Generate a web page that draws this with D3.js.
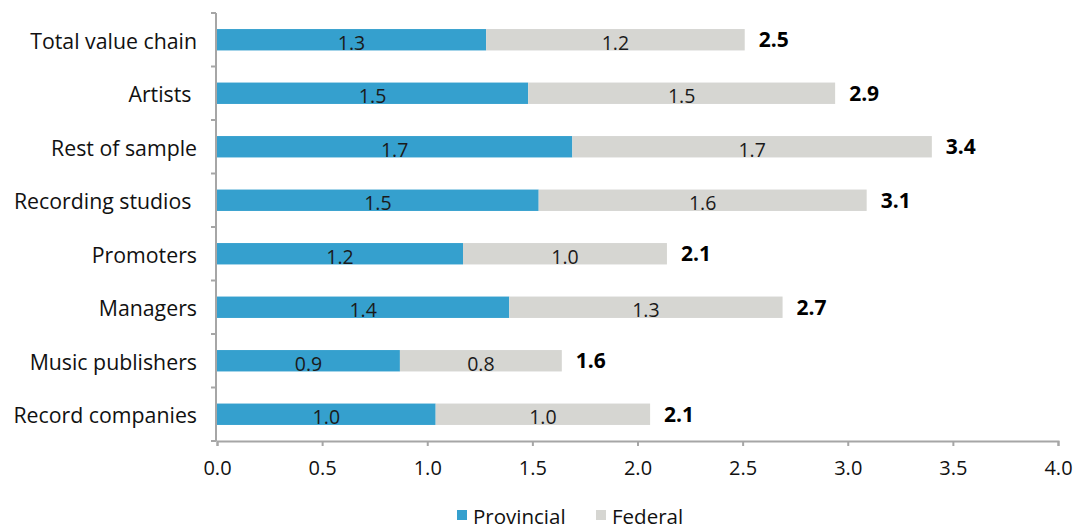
<!DOCTYPE html>
<html>
<head>
<meta charset="utf-8">
<script src="https://cdn.jsdelivr.net/npm/d3@7"></script>
<style>
  html, body { margin: 0; padding: 0; background: #fff; }
  svg { display: block; font-family: "Open Sans", "DejaVu Sans", sans-serif; }
  .cat { white-space: pre; }
</style>
</head>
<body>
<svg id="chart" width="1085" height="529"></svg>
<script>
// Segments of the music value chain (top to bottom)
const categories = [
  "Total value chain",
  "Artists ",
  "Rest of sample",
  "Recording studios ",
  "Promoters",
  "Managers",
  "Music publishers",
  "Record companies"
];
// Provincial and federal components
const provincial = [1.28, 1.48, 1.69, 1.53, 1.17, 1.39, 0.87, 1.04];
const federal    = [1.23, 1.46, 1.71, 1.56, 0.97, 1.30, 0.77, 1.02];
const xTicks = [0, 0.5, 1, 1.5, 2, 2.5, 3, 3.5, 4];
const seriesNames = ["Provincial", "Federal"];
const colors = ["#35A0CE", "#D6D6D2"];

const svg = d3.select("#chart");
const fmt = d3.format(".1f");

const x = d3.scaleLinear().domain([0, 4]).range([217, 1058]);
const y = d3.scaleBand().domain(categories).range([13, 441]).padding(0);
const barH = y.bandwidth() * 0.40;

const rows = categories.map((c, i) => ({
  cat: c,
  prov: provincial[i],
  fed: federal[i],
  total: provincial[i] + federal[i]
}));

// Stacked bars with value labels and bold totals
const g = svg.append("g");
rows.forEach(r => {
  const yc = y(r.cat) + y.bandwidth() / 2;
  const segs = [
    { x0: 0, x1: r.prov, v: r.prov, c: colors[0] },
    { x0: r.prov, x1: r.prov + r.fed, v: r.fed, c: colors[1] }
  ];
  segs.forEach(s => {
    g.append("rect")
      .attr("x", x(s.x0))
      .attr("y", yc - barH / 2)
      .attr("width", x(s.x1) - x(s.x0))
      .attr("height", barH)
      .attr("fill", s.c);
    g.append("text")
      .attr("x", (x(s.x0) + x(s.x1)) / 2)
      .attr("y", yc + 10)
      .attr("text-anchor", "middle")
      .attr("font-size", 19.5)
      .attr("fill", "#1a1a1a")
      .text(fmt(s.v));
  });
  g.append("text")
    .attr("x", x(r.total) + 14)
    .attr("y", yc + 7.5)
    .attr("font-size", 21)
    .attr("font-weight", "bold")
    .attr("fill", "#000")
    .text(fmt(r.total));
});

// X axis
const xAxis = svg.append("g")
  .attr("transform", "translate(0,441)")
  .call(d3.axisBottom(x).tickValues(xTicks).tickFormat(fmt).tickSize(5).tickPadding(15));
xAxis.select(".domain").attr("stroke", "#a6a6a6").attr("stroke-width", 2);
xAxis.selectAll(".tick line").attr("stroke", "#a6a6a6").attr("stroke-width", 2);
xAxis.selectAll(".tick text").attr("font-size", 20).attr("fill", "#111")
  .attr("font-family", "Open Sans, sans-serif");

// Y axis: line with ticks at category boundaries, labels centred on bands
const yAxis = svg.append("g").attr("transform", "translate(216,0)");
yAxis.append("line")
  .attr("x1", 0).attr("x2", 0).attr("y1", 13).attr("y2", 441)
  .attr("stroke", "#a6a6a6").attr("stroke-width", 2);
const bounds = categories.map(c => y(c)).concat([y.range()[1]]);
yAxis.selectAll("line.tk").data(bounds).join("line")
  .attr("class", "tk")
  .attr("x1", -5).attr("x2", 0)
  .attr("y1", d => d).attr("y2", d => d)
  .attr("stroke", "#a6a6a6").attr("stroke-width", 2);
yAxis.selectAll("text.cat").data(categories).join("text")
  .attr("class", "cat")
  .attr("x", -19)
  .attr("y", d => y(d) + y.bandwidth() / 2 + 9)
  .attr("text-anchor", "end")
  .attr("font-size", 21.3)
  .attr("fill", "#111")
  .text(d => d);

// Legend
const legendX = [457, 596];
const lg = svg.append("g");
seriesNames.forEach((n, i) => {
  lg.append("rect")
    .attr("x", legendX[i]).attr("y", 510)
    .attr("width", 10).attr("height", 10)
    .attr("fill", colors[i]);
  lg.append("text")
    .attr("x", legendX[i] + 16).attr("y", 524)
    .attr("font-size", 20.5)
    .attr("fill", "#111")
    .text(n);
});
</script>
</body>
</html>
